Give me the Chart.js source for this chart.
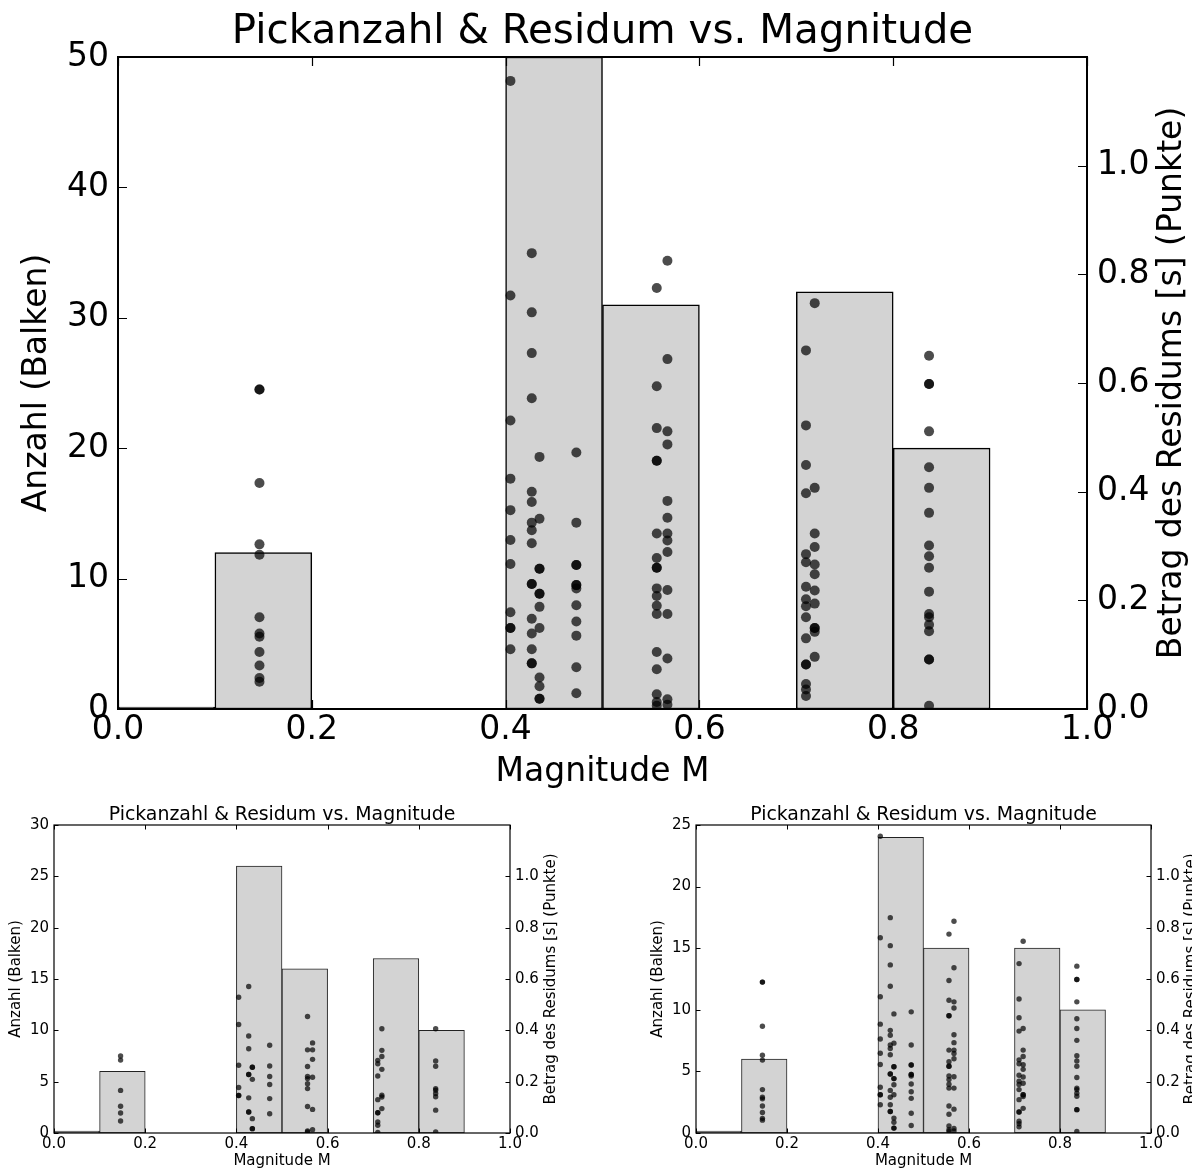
<!DOCTYPE html>
<html>
<head>
<meta charset="utf-8">
<script src="https://cdn.jsdelivr.net/npm/chart.js@4.4.1/dist/chart.umd.min.js"></script>
<style>
  html, body { margin: 0; padding: 0; background: #fff; overflow: hidden; }
  canvas { position: absolute; }
  #top { left: 0; top: 0; }
  #left { left: 0; top: 800px; }
  #right { left: 596px; top: 800px; }
</style>
</head>
<body>
<canvas id="top" width="1192" height="800"></canvas>
<canvas id="left" width="596" height="369"></canvas>
<canvas id="right" width="596" height="369"></canvas>
<script>
    const titleText = "Pickanzahl & Residum vs. Magnitude";
    const xLabel = "Magnitude M";
    const leftLabel = "Anzahl (Balken)";
    const rightLabel = "Betrag des Residums [s] (Punkte)";

    // histogram bins (centre of each 0.1 wide bin) and pick counts
    const binCenters = [0.05, 0.15, 0.45, 0.55, 0.75, 0.85];
    const countsAll = [0, 12, 50, 31, 32, 20];
    const countsA = [0, 6, 26, 16, 17, 10];
    const countsB = [0, 6, 24, 15, 15, 10];

    // magnitudes of the events, residuals of each event's picks
    const magnitudes = [0.146, 0.405, 0.427, 0.435, 0.473, 0.556, 0.567, 0.710, 0.719, 0.837];
    const residFull = [
      [0.588, 0.588, 0.416, 0.303, 0.284, 0.169, 0.139, 0.133, 0.105, 0.080, 0.057, 0.050],
      [1.156, 0.761, 0.531, 0.424, 0.366, 0.311, 0.267, 0.178, 0.149, 0.149, 0.110],
      [0.839, 0.730, 0.655, 0.572, 0.400, 0.381, 0.343, 0.329, 0.305, 0.230, 0.230, 0.166, 0.139, 0.110, 0.084, 0.084],
      [0.464, 0.350, 0.258, 0.258, 0.212, 0.212, 0.188, 0.149, 0.058, 0.042, 0.019, 0.019],
      [0.472, 0.343, 0.265, 0.265, 0.228, 0.228, 0.222, 0.191, 0.161, 0.135, 0.077, 0.029],
      [0.775, 0.594, 0.517, 0.457, 0.457, 0.323, 0.278, 0.260, 0.260, 0.222, 0.208, 0.190, 0.175, 0.105, 0.073, 0.027, 0.013, 0.006],
      [0.825, 0.644, 0.511, 0.487, 0.383, 0.352, 0.323, 0.310, 0.289, 0.219, 0.175, 0.093, 0.018, 0.008],
      [0.660, 0.522, 0.449, 0.397, 0.285, 0.270, 0.225, 0.202, 0.189, 0.169, 0.130, 0.082, 0.082, 0.046, 0.036, 0.024],
      [0.747, 0.407, 0.323, 0.298, 0.266, 0.248, 0.218, 0.194, 0.149, 0.149, 0.142, 0.096],
      [0.650, 0.598, 0.598, 0.511, 0.445, 0.407, 0.361, 0.301, 0.281, 0.260, 0.216, 0.175, 0.169, 0.155, 0.143, 0.091, 0.091, 0.006]
    ];
    const residSubset = [
      [0.300, 0.284, 0.166, 0.104, 0.078, 0.047],
      [0.529, 0.423, 0.264, 0.177, 0.146, 0.146],
      [0.571, 0.378, 0.328, 0.228, 0.228, 0.137, 0.082, 0.082],
      [0.256, 0.256, 0.209, 0.056, 0.017, 0.017],
      [0.342, 0.261, 0.220, 0.189, 0.134, 0.075],
      [0.454, 0.324, 0.259, 0.220, 0.212, 0.192, 0.173, 0.103, 0.008, 0.004],
      [0.351, 0.324, 0.287, 0.217, 0.092, 0.013],
      [0.283, 0.270, 0.222, 0.130, 0.079, 0.079, 0.043, 0.030, 0.002],
      [0.406, 0.322, 0.298, 0.248, 0.147, 0.140, 0.095],
      [0.406, 0.281, 0.260, 0.173, 0.167, 0.154, 0.141, 0.089, 0.004]
    ];

    const xTicks = [0, 0.2, 0.4, 0.6, 0.8, 1.0];

    Chart.defaults.font.family = "'DejaVu Sans', sans-serif";
    Chart.defaults.color = "#000";

    // inward tick marks on all four sides, the frame, the title centred over the
    // plot area and the right-hand label (reads bottom-up)
    const frameTicks = {
      id: "frameTicks",
      afterDatasetsDraw(chart, args, opts) {
        const { ctx, chartArea: a, scales } = chart;
        const len = opts.len;
        ctx.save();
        ctx.strokeStyle = "#000";
        ctx.lineWidth = opts.tickWidth;
        ctx.beginPath();
        scales.x.ticks.forEach(t => {
          const px = Math.round(scales.x.getPixelForValue(t.value)) + 0.5;
          ctx.moveTo(px, a.bottom); ctx.lineTo(px, a.bottom - len);
          ctx.moveTo(px, a.top); ctx.lineTo(px, a.top + len);
        });
        scales.y.ticks.forEach(t => {
          const py = Math.round(scales.y.getPixelForValue(t.value)) + 0.5;
          ctx.moveTo(a.left, py); ctx.lineTo(a.left + len, py);
        });
        scales.y2.ticks.forEach(t => {
          if (t.value > 1.1) return;
          const py = Math.round(scales.y2.getPixelForValue(t.value)) + 0.5;
          ctx.moveTo(a.right, py); ctx.lineTo(a.right - len, py);
        });
        ctx.stroke();

        ctx.lineWidth = opts.frameWidth;
        ctx.strokeRect(a.left, a.top, a.right - a.left, a.bottom - a.top);

        ctx.fillStyle = "#000";
        ctx.textAlign = "center";
        ctx.textBaseline = "alphabetic";
        ctx.font = opts.titleSize + "px 'DejaVu Sans'";
        ctx.fillText(titleText, (a.left + a.right) / 2, opts.titleBaseline);

        ctx.translate(a.right + opts.labelOffset, (a.top + a.bottom) / 2);
        ctx.rotate(-Math.PI / 2);
        ctx.font = opts.labelSize + "px 'DejaVu Sans'";
        ctx.textBaseline = "middle";
        ctx.fillText(rightLabel, 0, 0);
        ctx.restore();
      }
    };

    function makeChart(id, counts, resid, L) {
      const bars = binCenters.map((c, i) => ({ x: c, y: counts[i] }));
      const dots = magnitudes.flatMap((m, i) => resid[i].map(r => ({ x: m, y: r })));

      return new Chart(document.getElementById(id), {
        type: "bar",
        data: {
          datasets: [
            {
              type: "scatter",
              data: dots,
              yAxisID: "y2",
              order: 0,
              backgroundColor: "rgba(0,0,0,0.7)",
              borderWidth: 0,
              pointRadius: L.dot,
              pointHoverRadius: L.dot
            },
            {
              type: "bar",
              data: bars,
              yAxisID: "y",
              order: 1,
              backgroundColor: "#d3d3d3",
              borderColor: L.barEdge,
              borderWidth: L.barWidth,
              borderSkipped: false,
              barPercentage: 1,
              categoryPercentage: 1,
              minBarLength: 2
            }
          ]
        },
        options: {
          responsive: false,
          animation: false,
          events: [],
          layout: { padding: { top: L.plotTop, left: 0, right: 0, bottom: 0 } },
          plugins: {
            legend: { display: false },
            tooltip: { enabled: false },
            title: { display: false },
            frameTicks: {
              len: L.tickLen,
              tickWidth: L.tickWidth,
              frameWidth: L.frame,
              labelOffset: L.rightLabelOffset,
              labelSize: L.labelSize,
              titleSize: L.titleSize,
              titleBaseline: L.titleBaseline
            }
          },
          scales: {
            x: {
              type: "linear",
              min: 0,
              max: 1,
              offset: false,
              afterBuildTicks: s => { s.ticks = xTicks.map(v => ({ value: v })); },
              afterFit: s => { s.height = L.xHeight; },
              grid: { display: false, drawTicks: false, offset: false },
              border: { display: false },
              ticks: {
                padding: L.xTickPad,
                maxRotation: 0,
                autoSkip: false,
                font: { size: L.tickSize },
                callback: v => Number(v).toFixed(1)
              },
              title: {
                display: true,
                text: xLabel,
                font: { size: L.labelSize, lineHeight: L.xTitleLH },
                padding: { top: 0, bottom: L.xTitlePad }
              }
            },
            y: {
              position: "left",
              min: 0,
              max: L.countMax,
              afterFit: s => { s.width = L.leftWidth; },
              grid: { display: false, drawTicks: false },
              border: { display: false },
              ticks: { stepSize: L.countStep, padding: L.yTickPad, font: { size: L.tickSize } },
              title: {
                display: true,
                text: leftLabel,
                font: { size: L.labelSize },
                padding: { top: L.yTitlePad, bottom: 0 }
              }
            },
            y2: {
              position: "right",
              min: 0,
              max: 1.2,
              afterFit: s => { s.width = L.rightWidth; },
              grid: { display: false, drawTicks: false },
              border: { display: false },
              ticks: {
                stepSize: 0.2,
                padding: L.yTickPad2,
                font: { size: L.tickSize },
                callback: v => (v > 1.1 ? "" : Number(v).toFixed(1))
              }
            }
          }
        },
        plugins: [frameTicks]
      });
    }

    makeChart("top", countsAll, residFull, {
      dot: 5, barEdge: "#000", barWidth: 1.5, frame: 2, tickLen: 9, tickWidth: 1.2,
      titleSize: 40.4, titleBaseline: 43, plotTop: 57,
      tickSize: 33, labelSize: 33,
      xHeight: 91, xTickPad: 2, xTitlePad: 8, xTitleLH: 1.2,
      leftWidth: 118, rightWidth: 105, yTickPad: 9, yTickPad2: 10, yTitlePad: 18,
      countMax: 50, countStep: 10, rightLabelOffset: 85
    });

    makeChart("left", countsA, residSubset, {
      dot: 2.7, barEdge: "#222", barWidth: 1, frame: 1.2, tickLen: 4.5, tickWidth: 1,
      titleSize: 18.9, titleBaseline: 20, plotTop: 25,
      tickSize: 15, labelSize: 15,
      xHeight: 36, xTickPad: 2, xTitlePad: 0, xTitleLH: 1,
      leftWidth: 54, rightWidth: 86, yTickPad: 5, yTickPad2: 5, yTitlePad: 7,
      countMax: 30, countStep: 5, rightLabelOffset: 41
    });

    makeChart("right", countsB, residFull, {
      dot: 2.7, barEdge: "#222", barWidth: 1, frame: 1.2, tickLen: 4.5, tickWidth: 1,
      titleSize: 18.9, titleBaseline: 20, plotTop: 25,
      tickSize: 15, labelSize: 15,
      xHeight: 36, xTickPad: 2, xTitlePad: 0, xTitleLH: 1,
      leftWidth: 100, rightWidth: 41, yTickPad: 5, yTickPad2: 5, yTitlePad: 53,
      countMax: 25, countStep: 5, rightLabelOffset: 40
    });
</script>
</body>
</html>
